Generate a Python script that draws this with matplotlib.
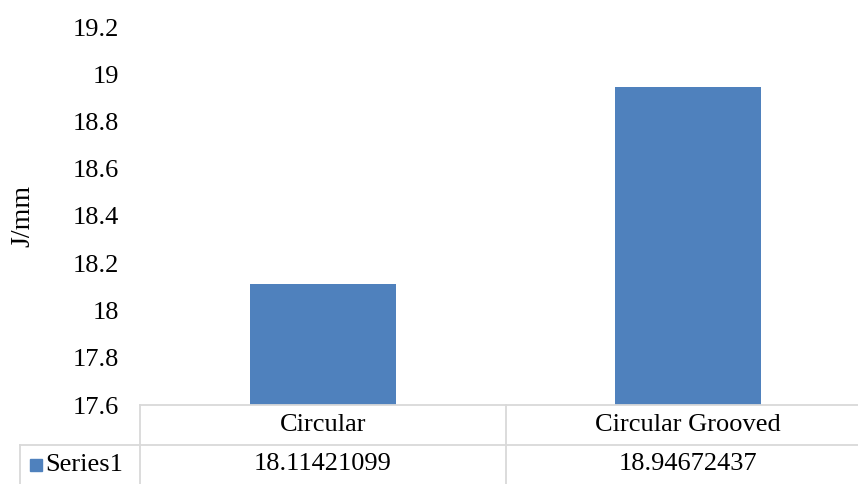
import matplotlib.pyplot as plt
from matplotlib.patches import Rectangle

# Chart data
categories = ['Circular', 'Circular Grooved']
values = [18.11421099, 18.94672437]
series_name = 'Series1'
yticks = [17.6, 17.8, 18.0, 18.2, 18.4, 18.6, 18.8, 19.0, 19.2]
ytick_labels = ['17.6', '17.8', '18', '18.2', '18.4', '18.6', '18.8', '19', '19.2']

bar_color = '#4F81BD'
grid_color = '#D9D9D9'
fs = 19
plt.rcParams['font.family'] = ['Liberation Serif', 'DejaVu Serif']

W, H = 858, 484
fig = plt.figure(figsize=(W / 100, H / 100), dpi=100)

# plot area (right edge runs a little past the image edge)
left, right, top, bottom = 140, 871, 27, 405
ax = fig.add_axes([left / W, (H - bottom) / H, (right - left) / W, (bottom - top) / H])
x = list(range(len(categories)))
ax.bar(x, values, width=0.4, color=bar_color, zorder=2)
ax.set_xlim(-0.5, len(categories) - 0.5)
ax.set_ylim(17.6, 19.2)
ax.set_yticks(yticks)
ax.set_yticklabels(ytick_labels, fontsize=fs)
ax.tick_params(axis='y', length=0, pad=15)
ax.set_xticks([])
for s in ax.spines.values():
    s.set_visible(False)
ax.set_ylabel('J/mm', fontsize=fs + 1)
ax.yaxis.set_label_coords(-(left - 35) / (right - left), 0.5)

# data table under the plot
tax = fig.add_axes([left / W, 0, (right - left) / W, (H - bottom) / H], sharex=ax)
tax.set_ylim(0, 2)
tax.axis('off')
lx = -(left - 20) / (right - left)
lw = 1.3
tax.axhline(2, color=grid_color, lw=lw, clip_on=False)
tax.axhline(1, xmin=lx, xmax=1, color=grid_color, lw=lw, clip_on=False)
for xv in [i - 0.5 for i in range(len(categories) + 1)]:
    tax.axvline(xv, color=grid_color, lw=lw, clip_on=False)
tax.plot([lx, lx], [0, 0.5], transform=tax.transAxes, color=grid_color, lw=lw, clip_on=False)

for i, (cat, val) in enumerate(zip(categories, values)):
    tax.text(i, 1.5, cat, ha='center', va='center', fontsize=fs)
    tax.text(i, 0.5, f'{val:.8f}', ha='center', va='center', fontsize=fs)

# legend key for the series row
fig.add_artist(Rectangle((30 / W, (H - 471) / H), 12 / W, 12 / H,
                         transform=fig.transFigure, color=bar_color))
fig.text(45 / W, (H - 465) / H, series_name, ha='left', va='center', fontsize=fs)

fig.savefig('out.png', dpi=100)
